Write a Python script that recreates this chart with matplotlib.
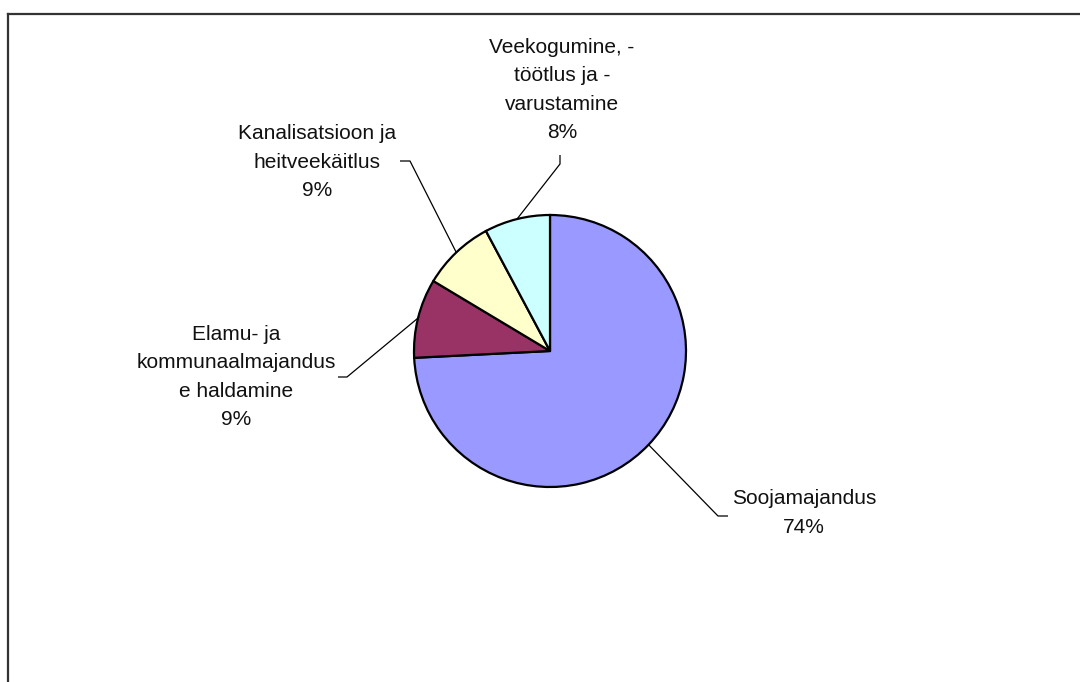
"""
Pie chart: share of spending by utility sector (Estonian labels),
Excel-style with leader lines and a partial frame.
"""

import matplotlib.pyplot as plt
import numpy as np
from matplotlib.lines import Line2D

plt.rcParams["font.family"] = ["Liberation Sans", "DejaVu Sans"]

# data, clockwise from 12 o'clock
labels = [
    "Soojamajandus",
    "Elamu- ja\nkommunaalmajandus\ne haldamine",
    "Kanalisatsioon ja\nheitveekäitlus",
    "Veekogumine, -\ntöötlus ja -\nvarustamine",
]
shares = [74.2, 9.4, 8.6, 7.8]
pct_text = ["74%", "9%", "9%", "8%"]
colors = ["#9999FF", "#993366", "#FFFFCC", "#CCFFFF"]

W, H = 1080, 682
CX, CY, R = 550, 351, 136   # pie centre / radius in pixels (from top-left)


def px(x, y):
    """pixel position (top-left origin) -> data units of the pie axes"""
    return (x - CX) / R, (CY - y) / R


# label layout: text centre, leader elbow, leader end (all pixels)
layout = [
    dict(text=(804, 513), elbow=(718, 516), end=(728, 516)),
    dict(text=(236, 377), elbow=(347, 377), end=(338, 377)),
    dict(text=(317, 162), elbow=(410, 161), end=(400, 161)),
    dict(text=(562, 90), elbow=(560, 164), end=(560, 155)),
]

fig = plt.figure(figsize=(W / 100, H / 100), dpi=100)
ax = fig.add_axes([0, 0, 1, 1])
ax.axis("off")

wedges, _ = ax.pie(shares, colors=colors, startangle=90, counterclock=False,
                   radius=1.0, center=(0, 0),
                   wedgeprops=dict(edgecolor="black", linewidth=1.6))
ax.set_aspect("equal")
ax.set_xlim(-CX / R, (W - CX) / R)
ax.set_ylim(-(H - CY) / R, CY / R)

for w, lab, pct, lay in zip(wedges, labels, pct_text, layout):
    mid = np.deg2rad((w.theta1 + w.theta2) / 2)
    ex, ey = np.cos(mid), np.sin(mid)
    bx, by = px(*lay["elbow"])
    tx, ty = px(*lay["end"])
    ax.plot([ex, bx, tx], [ey, by, ty], color="black", linewidth=0.9,
            solid_capstyle="butt", zorder=1)
    cx, cy = px(*lay["text"])
    ax.text(cx, cy, f"{lab}\n{pct}", ha="center", va="center",
            fontsize=15, linespacing=1.62, color="#111111")

# partial outer frame (left and top edges only)
fig.add_artist(Line2D([8 / W, 8 / W], [0, 1 - 14 / H], transform=fig.transFigure,
                      color="#333333", linewidth=1.6))
fig.add_artist(Line2D([8 / W, 1], [1 - 14 / H, 1 - 14 / H], transform=fig.transFigure,
                      color="#333333", linewidth=1.6))

fig.savefig("out.png", dpi=100)
